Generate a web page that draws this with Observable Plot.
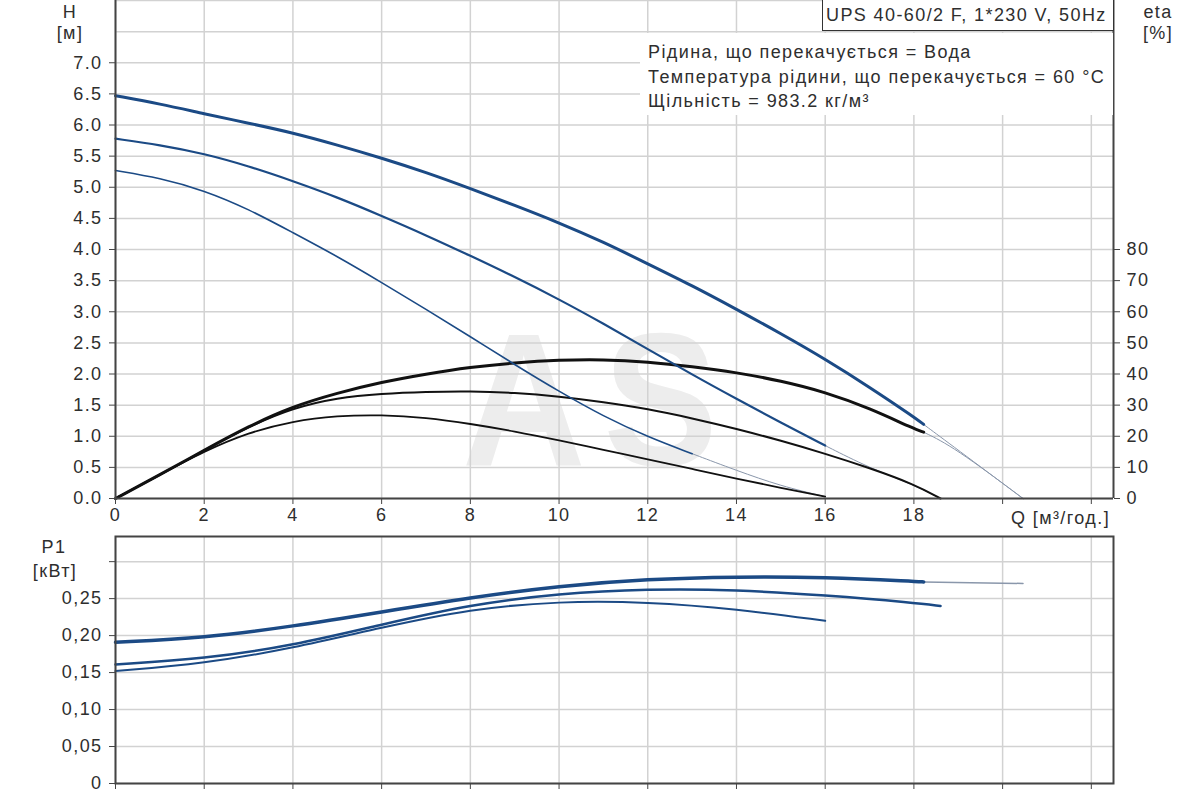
<!DOCTYPE html>
<html>
<head>
<meta charset="utf-8">
<script src="https://cdn.jsdelivr.net/npm/d3@7"></script>
<script src="https://cdn.jsdelivr.net/npm/@observablehq/plot@0.6"></script>
<style>
  body { margin: 0; background: #fff; }
  #wrap { position: relative; width: 1200px; height: 800px; background: #fff; overflow: hidden;
          font-family: 'Liberation Sans', Arial, sans-serif; color: #2e2e2e; }
  .lbl { position: absolute; font-size: 18px; letter-spacing: 1.4px; white-space: nowrap; line-height: 1; }
  .c { transform: translate(-50%, -50%); }
  .l { transform: translate(0, -50%); }
  #wm { position: absolute; left: 462px; top: 290px; line-height: normal;
        font-family: 'Liberation Sans', Arial, sans-serif; font-weight: bold; white-space: nowrap;
        font-size: 190px; color: #ededed; letter-spacing: 20px; transform: scaleX(0.9); transform-origin: left top; }
  #top, #bot { position: absolute; left: 0; }
  #top { top: 0; } #bot { top: 536px; }
  #infobox { position: absolute; left: 640px; top: 33px; width: 473px; height: 82px; background: #fff; }
  #titlebox { position: absolute; left: 822px; top: 0; width: 290px; height: 30px; background: #fff;
              border: 1.5px solid #333; border-top: none; }
</style>
</head>
<body>
<div id="wrap">
  <div id="wm">AS</div>
  <div id="top"></div>
  <div id="bot"></div>
</div>
<script>
// ---------- data ----------
// speed 3 (max)
const Q3 = [0,1,2,3,4,5,6,7,8,9,10,11,12,13,14,15,16,17,18,18.22];
const H3 = [6.47,6.34,6.18,6.03,5.875,5.68,5.47,5.24,4.98,4.71,4.43,4.12,3.77,3.42,3.04,2.65,2.24,1.79,1.31,1.19];
const ETA3 = [0,7.6,15.5,23.2,29.6,33.9,37.4,40,42.2,43.6,44.5,44.7,43.9,42.4,40.5,37.8,34.2,29,22.4,21.3];
const Q3_TAIL = [18.22,18.9,20.46];
const H3_TAIL = [1.19,0.83,0];
const ETA3_TAIL = [21.3,16.6,0];
// speed 2
const Q2 = [0,1,2,3,4,5,6,7,8,9,10,11,12,13,14,15,16];
const H2 = [5.78,5.68,5.54,5.34,5.10,4.84,4.54,4.23,3.90,3.56,3.2,2.81,2.4,1.99,1.6,1.22,0.85];
const Q2_TAIL = [16,17,18,18.6];
const H2_TAIL = [0.85,0.49,0.22,0];
const QE2 = [0,1,2,3,4,5,6,7,8,9,10,11,12,13,14,15,16,17,18,18.6];
const ETA2 = [0,7.6,15.5,23.1,29.1,32.4,33.7,34.3,34.5,34,32.8,31,28.8,25.8,22.4,18.6,14.4,9.8,4.6,0];
// speed 1
const Q1 = [0,1,2,3,4,5,6,7,8,9,10,11,12,13];
const H1 = [5.27,5.15,4.95,4.65,4.27,3.89,3.47,3.04,2.6,2.15,1.72,1.32,0.99,0.72];
const Q1_TAIL = [13,14,15,16];
const H1_TAIL = [0.72,0.45,0.2,0.03];
const QE1 = [0,1,2,3,4,5,6,7,8,9,10,11,12,13,14,15,16];
const ETA1 = [0,7.6,15.2,21.2,24.9,26.6,26.9,26,24,21.6,18.7,15.6,12.6,9.5,6.4,3.4,0.6];
// power P1 [kW]
const QP3 = [0,2,4,6,8,10,12,14,16,18,18.22];
const P3 = [0.191,0.197,0.2125,0.232,0.2515,0.267,0.2765,0.2795,0.279,0.2735,0.2725];
const QP3_TAIL = [18.22,20.46];
const P3_TAIL = [0.2725,0.2705];
const QP2 = [0,2,4,6,8,10,12,14,16,18,18.6];
const P2 = [0.161,0.1685,0.1865,0.215,0.242,0.257,0.263,0.262,0.2545,0.2445,0.240];
const QP1 = [0,2,4,6,8,10,12,14,16];
const P1 = [0.152,0.162,0.183,0.211,0.236,0.2465,0.2455,0.236,0.220];
// ticks
const X_TICKS = [0,2,4,6,8,10,12,14,16,18,20,22];
const H_TICKS = [0,0.5,1,1.5,2,2.5,3,3.5,4,4.5,5,5.5,6,6.5,7];
const H_GRID = [0,0.5,1,1.5,2,2.5,3,3.5,4,4.5,5,5.5,6,6.5,7,7.5,8];
const ETA_TICKS = [0,10,20,30,40,50,60,70,80];
const P_TICKS = [0,0.05,0.1,0.15,0.2,0.25,0.3];
const ETA_PER_M = 20; // right axis: 10 % per 0.5 m

// ---------- helpers ----------
const zip = (qs, vs) => qs.map((q, i) => ({q, v: vs[i]}));
const BLUE = "#1b4a85", BLACK = "#111", TAIL = "#8a97ab", GRID = "#d2d2d2", AX = "#444";
const FONT = {fontFamily: "'Liberation Sans', Arial, sans-serif", fontSize: "18px", letterSpacing: "1.4px",
              color: "#2e2e2e", background: "transparent", overflow: "visible"};
const line = (d, y, stroke, w) => Plot.line(d, {x: "q", y, stroke, strokeWidth: w, curve: "basis"});
const etaY = d => d.v / ETA_PER_M;

// ---------- top panel: H and eta ----------
const topPlot = Plot.plot({
  width: 1200, height: 536,
  marginLeft: 115, marginRight: 87, marginTop: 0, marginBottom: 38,
  style: FONT,
  x: {domain: [0, 22.5]},
  y: {domain: [0, 8]},
  marks: [
    Plot.gridX(X_TICKS, {stroke: GRID, strokeOpacity: 1, strokeWidth: 1.5}),
    Plot.gridY(H_GRID, {stroke: GRID, strokeOpacity: 1, strokeWidth: 1.5}),
    // tails
    line(zip(Q3_TAIL, H3_TAIL), "v", TAIL, 1),
    line(zip(Q3_TAIL, ETA3_TAIL), etaY, TAIL, 1),
    line(zip(Q2_TAIL, H2_TAIL), "v", TAIL, 1),
    line(zip(Q1_TAIL, H1_TAIL), "v", TAIL, 1),
    // efficiency
    line(zip(QE1, ETA1), etaY, BLACK, 1.8),
    line(zip(QE2, ETA2), etaY, BLACK, 2),
    line(zip(Q3, ETA3), etaY, BLACK, 3),
    // head
    line(zip(Q1, H1), "v", BLUE, 1.6),
    line(zip(Q2, H2), "v", BLUE, 2.2),
    line(zip(Q3, H3), "v", BLUE, 3),
    // axes
    Plot.ruleX([0, 22.5], {stroke: AX, strokeWidth: 2}),
    Plot.ruleY([0], {stroke: AX, strokeWidth: 2}),
    Plot.axisY(H_TICKS, {anchor: "left", tickFormat: d3.format(".1f"), tickSize: 6, tickPadding: 7,
                          stroke: AX, fill: "#2e2e2e", label: null}),
    Plot.axisY(ETA_TICKS.map(e => e / ETA_PER_M), {anchor: "right", tickFormat: d => String(Math.round(d * ETA_PER_M)),
                          tickSize: 6, tickPadding: 7, stroke: AX, fill: "#2e2e2e", label: null}),
    Plot.axisX(X_TICKS, {anchor: "bottom", tickFormat: d => d <= 18 ? String(d) : "", tickSize: 6,
                          tickPadding: 4, stroke: AX, fill: "#2e2e2e", label: null})
  ]
});
document.getElementById("top").appendChild(topPlot);

// ---------- bottom panel: P1 ----------
const botPlot = Plot.plot({
  width: 1200, height: 264,
  marginLeft: 115, marginRight: 87, marginTop: 0, marginBottom: 17,
  style: FONT,
  x: {domain: [0, 22.5]},
  y: {domain: [0, 0.334]},
  marks: [
    Plot.gridX(X_TICKS, {stroke: GRID, strokeOpacity: 1, strokeWidth: 1.5}),
    Plot.gridY(P_TICKS, {stroke: GRID, strokeOpacity: 1, strokeWidth: 1.5}),
    line(zip(QP3_TAIL, P3_TAIL), "v", TAIL, 1.5),
    line(zip(QP1, P1), "v", BLUE, 2),
    line(zip(QP2, P2), "v", BLUE, 2.5),
    line(zip(QP3, P3), "v", BLUE, 3.5),
    Plot.frame({stroke: AX, strokeWidth: 2}),
    Plot.axisY(P_TICKS, {anchor: "left", tickFormat: d => d === 0 ? "0" : (d > 0.26 ? "" : d3.format(".2f")(d).replace(".", ",")),
                          tickSize: 6, tickPadding: 7, stroke: AX, fill: "#2e2e2e", label: null}),
    Plot.axisX(X_TICKS, {anchor: "bottom", tickFormat: () => "", tickSize: 6, stroke: AX, label: null})
  ]
});
document.getElementById("bot").appendChild(botPlot);

// ---------- text overlays ----------
const wrap = document.getElementById("wrap");
wrap.insertAdjacentHTML("beforeend", '<div id="infobox"></div><div id="titlebox"></div>');
function label(text, x, y, cls) {
  const el = document.createElement("div");
  el.className = "lbl " + cls;
  el.style.left = x + "px"; el.style.top = y + "px";
  el.textContent = text;
  wrap.appendChild(el);
}
label("H", 70, 12, "c");
label("[м]", 70, 33, "c");
label("eta", 1158, 12, "c");
label("[%]", 1158, 33, "c");
label("Q [м³/год.]", 1011, 518, "l");
label("P1", 54, 547, "c");
label("[кВт]", 55, 571, "c");
label("UPS 40-60/2 F, 1*230 V, 50Hz", 826, 15, "l");
label("Рідина, що перекачується = Вода", 648, 52, "l");
label("Температура рідини, що перекачується = 60 °C", 648, 77, "l");
label("Щільність = 983.2 кг/м³", 648, 101, "l");
</script>
</body>
</html>
